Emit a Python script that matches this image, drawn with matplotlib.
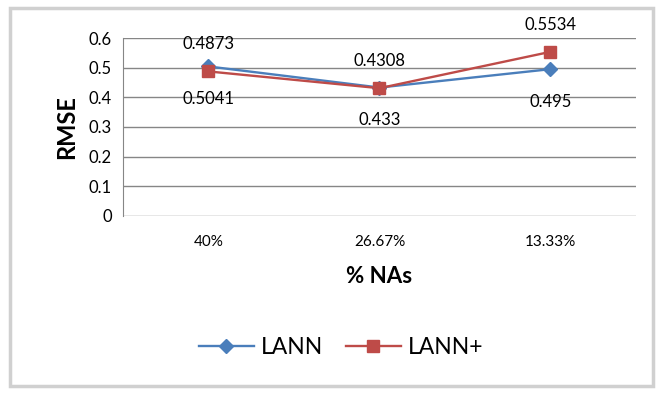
import matplotlib.pyplot as plt
from matplotlib.patches import Rectangle

# RMSE por porcentaje de NAs
categorias = ["40%", "26.67%", "13.33%"]
lann = [0.5041, 0.433, 0.495]
lann_plus = [0.4873, 0.4308, 0.5534]

plt.rcParams['font.family'] = ['Lato', 'DejaVu Sans']

fig = plt.figure(figsize=(6.62, 3.93), dpi=100)
fig.patches.append(Rectangle((0.015, 0.018), 0.972, 0.962, transform=fig.transFigure,
                             fill=False, edgecolor='#d0d0d0', linewidth=2.5))

ax = fig.add_axes([0.1858, 0.4504, 0.7749, 0.4529])
x = range(len(categorias))

ax.plot(x, lann, color='#4a7ebb', lw=1.7, marker='D', markersize=7.5, label='LANN', zorder=3)
ax.plot(x, lann_plus, color='#be4b48', lw=1.7, marker='s', markersize=9, label='LANN+', zorder=4)

# etiquetas: LANN+ arriba, LANN abajo
for i in x:
    ax.annotate(str(lann_plus[i]), (i, lann_plus[i]), xytext=(0, 19.5), textcoords='offset points',
                ha='center', va='center', fontsize=12)
    ax.annotate(str(lann[i]), (i, lann[i]), xytext=(0, -23.5), textcoords='offset points',
                ha='center', va='center', fontsize=12)

ax.set_xlim(-0.5, 2.5)
ax.set_ylim(0, 0.6)
ax.set_yticks([0, 0.1, 0.2, 0.3, 0.4, 0.5, 0.6])
ax.set_yticklabels(['0', '0.1', '0.2', '0.3', '0.4', '0.5', '0.6'], fontsize=12)
ax.set_xticks(list(x))
ax.set_xticklabels(categorias, fontsize=11)
ax.tick_params(length=0, pad=8)
ax.tick_params(axis='x', pad=14)
ax.grid(axis='y', color='#868686', lw=1)
ax.set_axisbelow(True)
for s in ['top', 'right', 'bottom']:
    ax.spines[s].set_visible(False)
ax.spines['left'].set_color('#868686')

ax.set_ylabel('RMSE', fontsize=17, fontweight='bold', labelpad=8)
ax.set_xlabel('% NAs', fontsize=16, fontweight='bold', labelpad=12)

fig.legend(loc='center', bbox_to_anchor=(0.515, 0.115), ncol=2, frameon=False, fontsize=16.5,
           handlelength=2.4, columnspacing=1.0, handletextpad=0.3)

fig.savefig('out.png', dpi=100)
